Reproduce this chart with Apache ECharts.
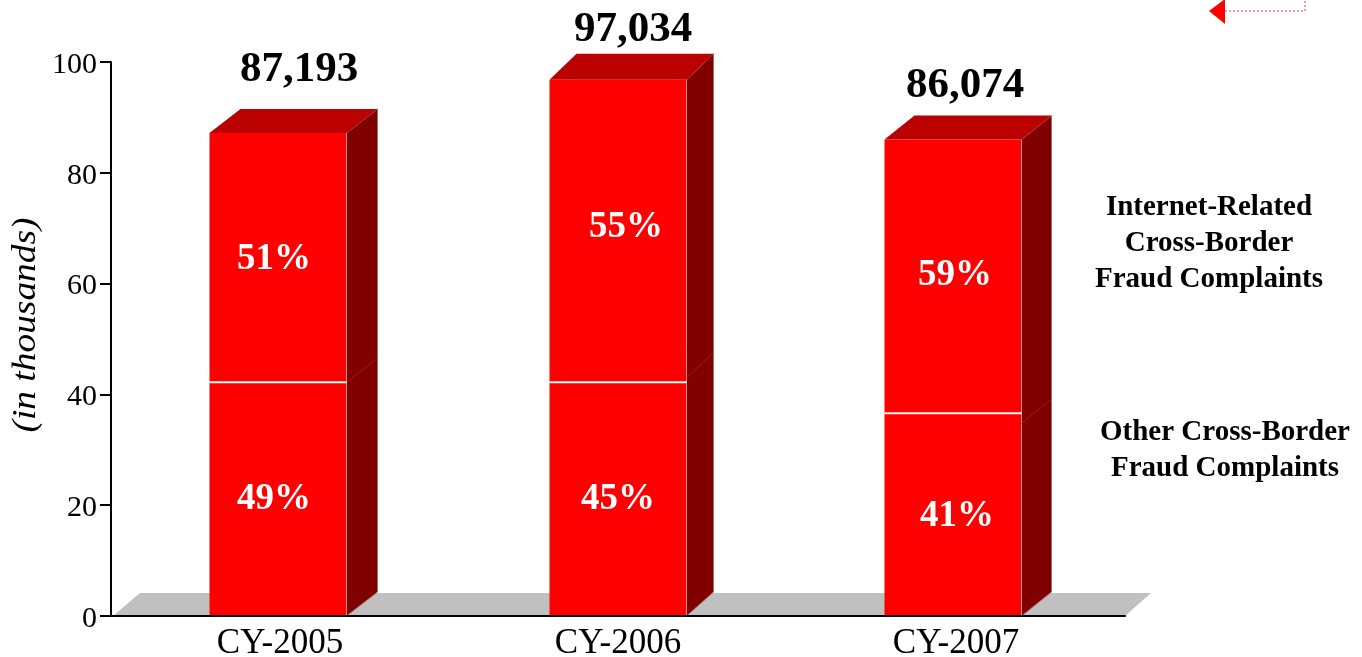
<!DOCTYPE html>
<html><head><meta charset="utf-8">
<style>html,body{margin:0;padding:0;background:#fff;overflow:hidden}#c{width:1362px;height:657px}</style>
<script src="https://cdn.jsdelivr.net/npm/echarts@6/dist/echarts.min.js"></script>
</head><body><div id="c"></div>
<script>
const categories = ['CY-2005','CY-2006','CY-2007'];
const otherValues = [42.2, 42.2, 36.6];
const totalValues = [87.2, 96.8, 86.0];
const totalLabels = ['87,193','97,034','86,074'];
const internetPct = ['51%','55%','59%'];
const otherPct = ['49%','45%','41%'];
const yTicks = [0, 100, 20];
const legendUpper = ['Internet-Related','Cross-Border','Fraud Complaints'];
const legendLower = ['Other Cross-Border','Fraud Complaints'];
const yTitle = '(in thousands)';

const SERIF = '"Liberation Serif","Times New Roman",serif';
const barShift = [-2, 0, -3];
const totalOffset = [[21, -63.5], [15, -49.5], [12, -54]];
const upperPctOffset = [[-4, 0], [8, 0], [2, 0]];
const upperPctY = [259, 227, 275];
const lowerPctOffset = [[-4, 0], [0, 0], [4, 0]];
const lowerPctY = [499, 499, 516];
const sideLineDrop = [0, -4, 10];
const depthX = [31, 27, 30], depthTopY = [24, 26, 24], depthBottomY = 24;
const BAR_W = 137;

function poly(points, fill, stroke) {
  return {type:'polygon', shape:{points}, style:{fill, stroke: stroke || null, lineWidth: stroke ? 1 : 0}};
}
function txt(text, x, y, size, fill) {
  return {type:'text', style:{text, x, y, fill, font:'bold '+size+'px '+SERIF, textAlign:'center', textVerticalAlign:'middle'}};
}
function renderFloor(params, api) {
  const s = params.coordSys;
  const y0 = api.coord([0, 0])[1];
  return poly([[s.x+2,y0],[s.x+29,y0-23],[s.x+s.width+26,y0-23],[s.x+s.width,y0]], '#C0C0C0');
}
function renderBar(params, api) {
  const i = params.dataIndex;
  const c = api.coord([api.value(0), 0]);
  const cx = c[0] + barShift[i], y0 = c[1];
  const yM = api.coord([api.value(0), api.value(1)])[1];
  const yT = api.coord([api.value(0), api.value(2)])[1];
  const L = cx - BAR_W/2, R = cx + BAR_W/2, DX = depthX[i], DY = depthTopY[i];
  const yS = yM + sideLineDrop[i];
  return {type:'group', children:[
    poly([[R,yT],[R+DX,yT-DY],[R+DX,y0-depthBottomY],[R,y0]], '#800000', '#A07070'),
    poly([[L,yT],[L+DX,yT-DY],[R+DX,yT-DY],[R,yT]], '#BB0000'),
    poly([[L,yT],[R,yT],[R,y0],[L,y0]], '#FF0000'),
    {type:'line', shape:{x1:R,y1:yT,x2:R,y2:y0}, style:{stroke:'#C49090', lineWidth:1}},
    {type:'line', shape:{x1:R,y1:yS,x2:R+DX,y2:yS-DY}, style:{stroke:'#A01818', lineWidth:1}},
    {type:'line', shape:{x1:L,y1:yM,x2:R,y2:yM}, style:{stroke:'#FFFFFF', lineWidth:2}},
    txt(totalLabels[i], cx+totalOffset[i][0], yT+totalOffset[i][1], 43, '#000000'),
    txt(internetPct[i], cx+upperPctOffset[i][0], upperPctY[i], 37, '#FFFFFF'),
    txt(otherPct[i], cx+lowerPctOffset[i][0], lowerPctY[i], 37, '#FFFFFF')
  ]};
}
function sideText(text, x, y) {
  return {type:'text', x, y, silent:true, style:{text, fill:'#000', font:'bold 29px '+SERIF, textAlign:'center', textVerticalAlign:'middle'}};
}
const chart = echarts.init(document.getElementById('c'), null, {renderer:'canvas'});
chart.setOption({
  animation:false,
  backgroundColor:'#fff',
  grid:{left:111, top:62, width:1014, height:554, containLabel:false, outerBoundsMode:'none'},
  xAxis:{type:'category', data:categories, z:6,
    axisLine:{lineStyle:{color:'#000', width:2}}, axisTick:{show:false},
    axisLabel:{color:'#000', fontFamily:SERIF, fontSize:35, margin:10, interval:0}},
  yAxis:{type:'value', min:yTicks[0], max:yTicks[1], interval:yTicks[2], z:6,
    splitLine:{show:false},
    axisLine:{show:true, lineStyle:{color:'#000', width:2}},
    axisTick:{show:true, length:11, lineStyle:{color:'#000', width:2}},
    axisLabel:{color:'#000', fontFamily:SERIF, fontSize:30, margin:14,
      formatter:v=>'{n|'+v+'}', rich:{n:{color:'#000', fontFamily:SERIF, fontSize:30, padding:[6,0,0,0]}}}},
  series:[
    {type:'custom', coordinateSystem:'cartesian2d', data:[[0,0]], renderItem:renderFloor, z:1, silent:true},
    {type:'custom', coordinateSystem:'cartesian2d', z:3, silent:true,
      encode:{x:0,y:[1,2]},
      data:categories.map((c,i)=>[i, otherValues[i], totalValues[i]]), renderItem:renderBar}
  ],
  graphic:[
    {type:'text', x:26, y:325, rotation:Math.PI/2, scaleX:1.1, silent:true,
      style:{text:yTitle, fill:'#000', font:'italic 34px '+SERIF, textAlign:'center', textVerticalAlign:'middle'}},
    ...legendUpper.map((t,i)=>sideText(t, 1209, 208+36*i)),
    ...legendLower.map((t,i)=>sideText(t, 1225, 433+36*i)),
    {type:'polygon', silent:true, shape:{points:[[1209,11],[1225,-1],[1225,24]]}, style:{fill:'#FF0000'}},
    {type:'polyline', silent:true, shape:{points:[[1225,11],[1305,11],[1305,0]]},
      style:{fill:null, stroke:'#E84040', lineWidth:1, lineDash:[2,2]}}
  ]
});
</script></body></html>
